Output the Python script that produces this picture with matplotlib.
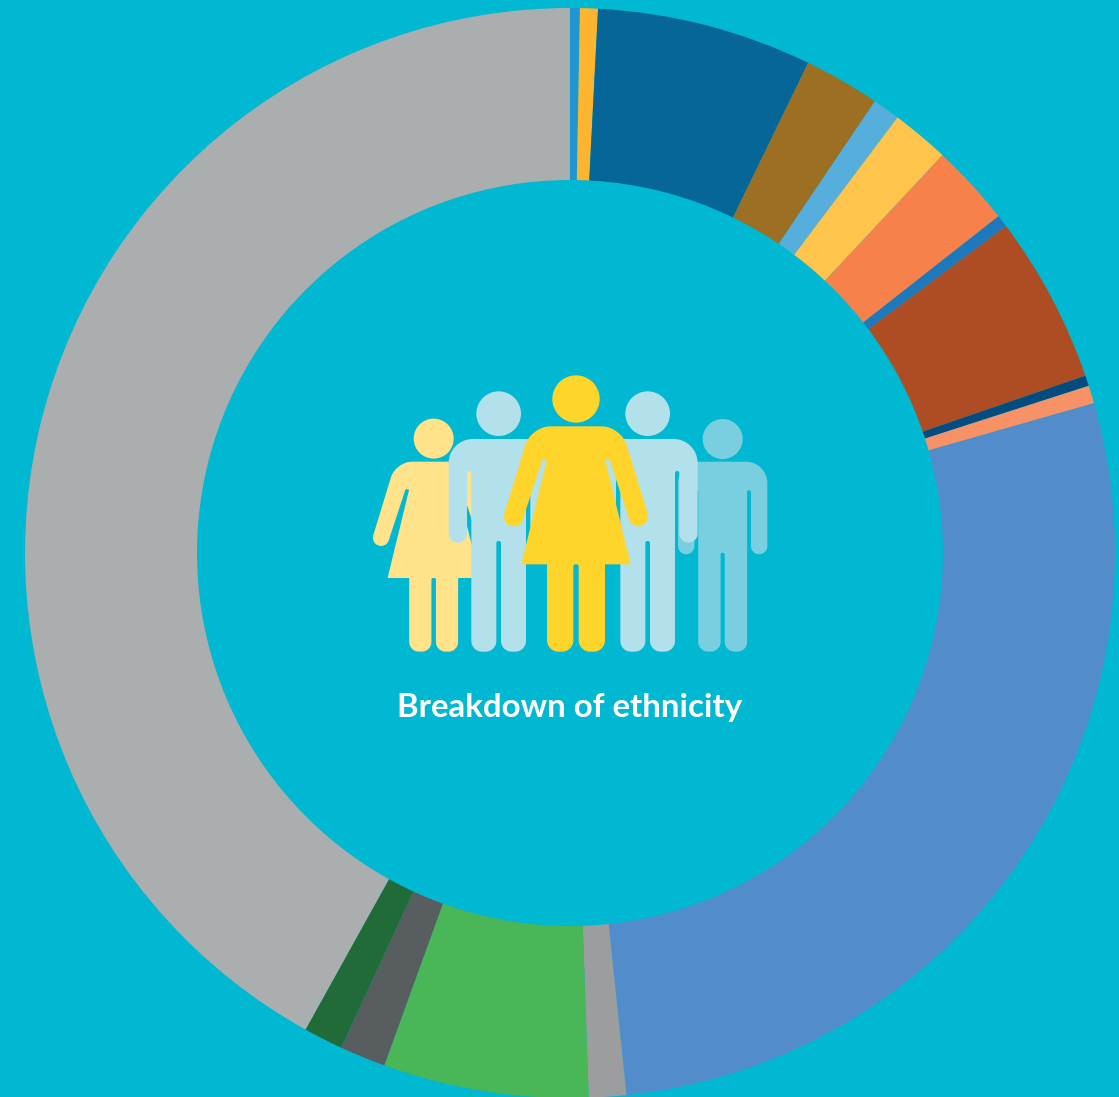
import matplotlib
matplotlib.use("Agg")
import matplotlib.pyplot as plt
from matplotlib.path import Path
from matplotlib.patches import PathPatch, Circle

# share of each ring segment in %, clockwise from 12 o'clock
shares = [0.29, 0.53, 6.38, 2.25, 0.81, 1.72, 2.42, 0.36, 4.97, 0.31, 0.53,
          27.78, 1.11, 6.08, 1.36, 1.17, 41.94]
ring_colors = ['#1F97D4', '#FDB52F', '#066698', '#9C6F22', '#56AEDC', '#FEC44C',
               '#F6814A', '#1E79BC', '#AE4D23', '#034C7F', '#F79267', '#528CCB',
               '#9B9D9F', '#49B757', '#585E5F', '#216B38', '#AAAEAF']
title = 'Breakdown of ethnicity'

BG = '#00B8D1'
W, H = 1119, 1097
CX, CY, R_OUT, R_IN = 570, 553, 545, 373

# half outlines of the figures: x from axis, y from shoulder line, corner radius
MAN = [(0, 0, 0), (150, 0, 72), (150, 311, 27), (95, 311, 27), (95, 96, 6),
       (82, 96, 6), (82, 638, 32), (7, 638, 32), (7, 306, 6), (0, 306, 0)]
WOMAN = [(0, 0, 0), (135, 0, 58), (215, 262, 0), (160, 280, 0), (100, 98, 5),
         (87, 98, 5), (164, 414, 0), (87, 414, 0), (87, 676, 34), (8, 676, 34),
         (8, 414, 6), (0, 414, 0)]
WOMAN_HAND = (187, 271, 29)
K = 0.55


def outline(half):
    pts = half + [(-x, y, r) for x, y, r in reversed(half[1:-1])]
    verts, codes = [], []
    n = len(pts)
    for i, (x, y, r) in enumerate(pts):
        if r == 0:
            verts.append((x, y))
            codes.append(Path.MOVETO if i == 0 else Path.LINETO)
            continue
        px, py, _ = pts[i - 1]
        qx, qy, _ = pts[(i + 1) % n]
        d1 = ((px - x) ** 2 + (py - y) ** 2) ** 0.5
        d2 = ((qx - x) ** 2 + (qy - y) ** 2) ** 0.5
        a = (x + (px - x) * r / d1, y + (py - y) * r / d1)
        b = (x + (qx - x) * r / d2, y + (qy - y) * r / d2)
        verts += [a, (a[0] + (x - a[0]) * K, a[1] + (y - a[1]) * K),
                  (b[0] + (x - b[0]) * K, b[1] + (y - b[1]) * K), b]
        codes += [Path.LINETO, Path.CURVE4, Path.CURVE4, Path.CURVE4]
    verts.append(verts[0])
    codes.append(Path.CLOSEPOLY)
    return verts, codes


def person(ax, half, axis_x, top_y, scale, head_r, head_dy, color, z):
    # inputs are in the 3x zoom grid of the icon, mapped back to pixels
    verts, codes = outline(half)
    verts = [((axis_x + x * scale) / 3 + 360, (top_y + y * scale) / 3 + 365) for x, y in verts]
    ax.add_patch(PathPatch(Path(verts, codes), fc=color, ec='none', zorder=z))
    ax.add_patch(Circle((axis_x / 3 + 360, (top_y + head_dy * scale) / 3 + 365), head_r / 3,
                        fc=color, ec='none', zorder=z))
    if half is WOMAN:
        hx, hy, hr = WOMAN_HAND
        for side in (-1, 1):
            ax.add_patch(Circle(((axis_x + side * hx * scale) / 3 + 360, (top_y + hy * scale) / 3 + 365),
                                hr * scale / 3, fc=color, ec='none', zorder=z))


fig = plt.figure(figsize=(W / 100, H / 100), dpi=100, facecolor=BG)

ax = fig.add_axes([(CX - R_OUT) / W, (H - CY - R_OUT) / H, 2 * R_OUT / W, 2 * R_OUT / H])
ax.pie(shares, colors=ring_colors, startangle=90, counterclock=False, radius=1,
       wedgeprops=dict(width=(R_OUT - R_IN) / R_OUT, linewidth=0))
ax.set_xlim(-1, 1)
ax.set_ylim(-1, 1)
ax.axis('off')

icon = fig.add_axes([0, 0, 1, 1])
icon.set_xlim(0, W)
icon.set_ylim(H, 0)
icon.axis('off')
icon.patch.set_alpha(0)

person(icon, WOMAN, 221, 290, 0.843, 60, -82, '#FFE28A', 1)
person(icon, MAN, 1088, 290, 0.893, 60, -76, '#79CFE0', 1)
person(icon, MAN, 416, 222, 1, 67, -76, '#B2E1EC', 2)
person(icon, MAN, 863, 222, 1, 67, -76, '#B2E1EC', 2)
person(icon, WOMAN, 648, 184, 1, 71, -82, '#FFD52C', 3)

icon.text(570, 717, title, color='white', fontsize=23.8, fontweight='bold',
          family='Lato', ha='center', va='baseline')

fig.savefig('out.png', dpi=100, facecolor=BG)
